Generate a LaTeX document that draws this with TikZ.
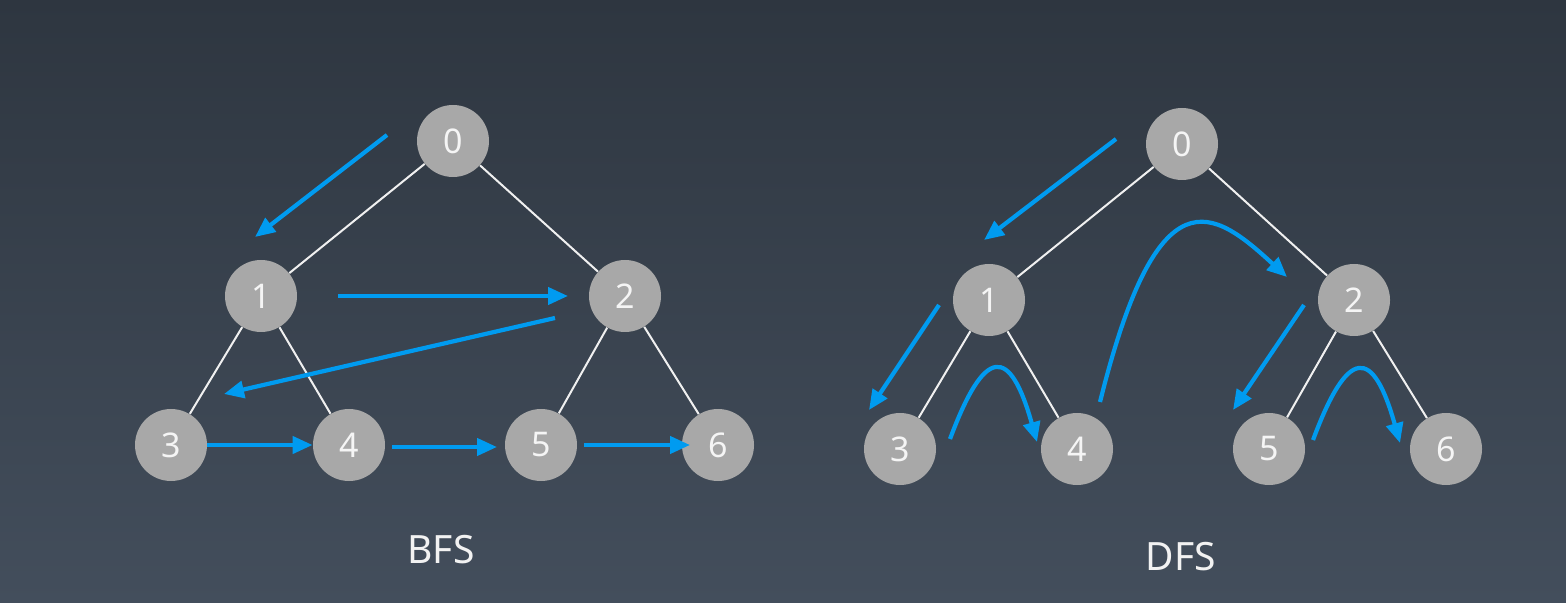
\documentclass[tikz,border=0pt]{standalone}
\usepackage{fontspec}
\setmainfont{Noto Sans}
\usetikzlibrary{arrows.meta}
\definecolor{bgtop}{HTML}{2E3640}
\definecolor{bgbot}{HTML}{434E5C}
\definecolor{vgray}{HTML}{A8A8A8}
\definecolor{trav}{RGB}{0,155,240}
\tikzset{
  vert/.style={circle, fill=vgray, minimum size=36pt, inner sep=0pt,
    text=white!96!black, font=\fontsize{17}{19}\selectfont},
  edge/.style={draw=white!94!black, line width=1pt},
  walk/.style={draw=trav, line width=2.1pt,
    -{Triangle[length=10pt,width=8.5pt]}},
  caption/.style={text=white!95!black, font=\fontsize{19.5}{22}\selectfont}
}
\begin{document}
\begin{tikzpicture}[x=0.5pt,y=-0.5pt]
  \useasboundingbox (0,0) rectangle (1566,603);
  \shade[top color=bgtop, bottom color=bgbot] (0,0) rectangle (1566,603);

  % ---------- BFS tree ----------
  \node[vert] (b0) at (453,141) {0};
  \node[vert] (b1) at (261,296) {1};
  \node[vert] (b2) at (625,296) {2};
  \node[vert] (b3) at (171,445) {3};
  \node[vert] (b4) at (349,445) {4};
  \node[vert] (b5) at (541,445) {5};
  \node[vert] (b6) at (718,445) {6};
  \foreach \a/\b in {b0/b1,b0/b2,b1/b3,b1/b4,b2/b5,b2/b6}
    \path[edge] (\a) -- (\b);

  % level-order walk
  \coordinate (ba1) at (387,135); \coordinate (ba2) at (255,237);
  \coordinate (bb1) at (338,296); \coordinate (bb2) at (568,296);
  \coordinate (bc1) at (555,318); \coordinate (bc2) at (224,394);
  \path[walk] (ba1) -- (ba2);
  \path[walk] (bb1) -- (bb2);
  \path[walk] (bc1) -- (bc2);
  \path[walk] (b3.east) -- (b4.west);
  \coordinate (bd1) at (392,447); \coordinate (bd2) at (497,447);
  \path[walk] (bd1) -- (bd2);
  \coordinate (be1) at (584,445); \coordinate (be2) at (690,445);
  \path[walk] (be1) -- (be2);

  \node[caption] (bfs) at (441,550) {BFS};

  % ---------- DFS tree ----------
  \node[vert] (d0) at (1182,144) {0};
  \node[vert] (d1) at (989,300) {1};
  \node[vert] (d2) at (1354,300) {2};
  \node[vert] (d3) at (900,449) {3};
  \node[vert] (d4) at (1077,449) {4};
  \node[vert] (d5) at (1269,449) {5};
  \node[vert] (d6) at (1446,449) {6};
  \foreach \a/\b in {d0/d1,d0/d2,d1/d3,d1/d4,d2/d5,d2/d6}
    \path[edge] (\a) -- (\b);

  % depth-first walk
  \coordinate (da1) at (1116,139); \coordinate (da2) at (984,240);
  \coordinate (db1) at (939,305);  \coordinate (db2) at (869,410);
  \coordinate (dc1) at (950,439);  \coordinate (dc2) at (1037,442);
  \coordinate (dd1) at (1100,402); \coordinate (dd2) at (1287,277);
  \coordinate (de1) at (1304,305); \coordinate (de2) at (1233,410);
  \coordinate (df1) at (1313,440); \coordinate (df2) at (1400,443);
  \path[walk] (da1) -- (da2);
  \path[walk] (db1) -- (db2);
  \path[walk] (dc1) .. controls (985,345) and (1010,346) .. (dc2);
  \path[walk] (dd1) .. controls (1158,169) and (1213,209) .. (dd2);
  \path[walk] (de1) -- (de2);
  \path[walk] (df1) .. controls (1348,346) and (1373,347) .. (df2);

  \node[caption] (dfs) at (1181,557) {DFS};
\end{tikzpicture}
\end{document}
